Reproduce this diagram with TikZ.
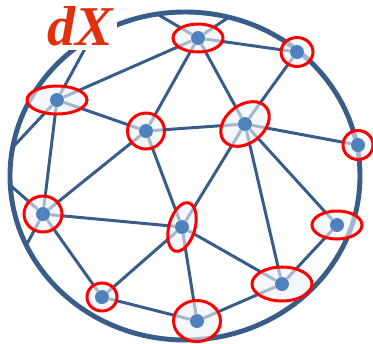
\documentclass[tikz,border=0pt]{standalone}
\usepackage{fontspec}
\setmainfont{Liberation Serif}
\usetikzlibrary{backgrounds}
\definecolor{edgeblue}{RGB}{56,93,138}
\definecolor{dotblue}{RGB}{79,129,189}
\definecolor{ringfill}{RGB}{236,241,248}
\definecolor{labelred}{RGB}{224,48,14}

\begin{document}
\begin{tikzpicture}[x=0.02cm, y=-0.02cm,
    dot/.style={circle, fill=dotblue, minimum size=0.28cm, inner sep=0pt},
    ring/.style={draw=red, line width=1.7pt, fill=ringfill, fill opacity=0.6},
    edge/.style={draw=edgeblue, line width=1.7pt},
    rim/.style={draw=edgeblue, line width=2.8pt},
    lbl/.style={font=\bfseries\itshape\fontsize{32}{32}\selectfont, text=labelred, fill=white, inner sep=2.5pt}
]
\useasboundingbox (0,0) rectangle (373,343);
\node[dot] (A) at (198,38) {};
\node[dot] (B) at (297,52) {};
\node[dot] (C) at (57,100) {};
\node[dot] (D) at (146,131) {};
\node[dot] (E) at (245,124) {};
\node[dot] (F) at (358,145) {};
\node[dot] (G) at (43,214) {};
\node[dot] (H) at (182,227) {};
\node[dot] (I) at (337,225) {};
\node[dot] (J) at (102,297) {};
\node[dot] (K) at (282,284) {};
\node[dot] (L) at (197,321) {};
\coordinate (r1) at (93,34);
\coordinate (r2) at (13,147);
\coordinate (r3) at (157,14);
\coordinate (r4) at (229,17);
\coordinate (r5) at (11,186);
\coordinate (r6) at (27,244);

\begin{scope}[on background layer]
\draw[rim] (185,176) ellipse (175 and 164);
\draw[edge] (C) -- (A);
\draw[edge] (C) -- (D);
\draw[edge] (C) -- (G);
\draw[edge] (C) -- (r1);
\draw[edge] (C) -- (r2);
\draw[edge] (D) -- (A);
\draw[edge] (D) -- (E);
\draw[edge] (D) -- (G);
\draw[edge] (D) -- (H);
\draw[edge] (A) -- (B);
\draw[edge] (A) -- (E);
\draw[edge] (A) -- (r3);
\draw[edge] (A) -- (r4);
\draw[edge] (B) -- (E);
\draw[edge] (E) -- (F);
\draw[edge] (E) -- (H);
\draw[edge] (E) -- (K);
\draw[edge] (E) -- (I);
\draw[edge] (G) -- (H);
\draw[edge] (G) -- (J);
\draw[edge] (G) -- (r5);
\draw[edge] (G) -- (r6);
\draw[edge] (H) -- (J);
\draw[edge] (H) -- (L);
\draw[edge] (H) -- (K);
\draw[edge] (K) -- (I);
\draw[edge] (K) -- (L);
\draw[edge] (J) -- (L);

\draw[ring] (A) ellipse (25 and 14);
\draw[ring] (B) ellipse (16 and 14.5);
\draw[ring] (C) ellipse (30 and 14);
\draw[ring] (D) ellipse (18.5 and 18);
\draw[ring, rotate around={38:(E)}] (E) ellipse (27 and 19);
\draw[ring] (F) ellipse (15 and 14.5);
\draw[ring] (G) ellipse (19 and 18);
\draw[ring, rotate around={-16:(H)}] (H) ellipse (13 and 25);
\draw[ring] (I) ellipse (25 and 14);
\draw[ring] (J) ellipse (15 and 14);
\draw[ring] (K) ellipse (30 and 17);
\draw[ring] (L) ellipse (23.5 and 20.5);
\end{scope}

\node[lbl, anchor=base] (dX) at (80,45) {dX};
\end{tikzpicture}
\end{document}
